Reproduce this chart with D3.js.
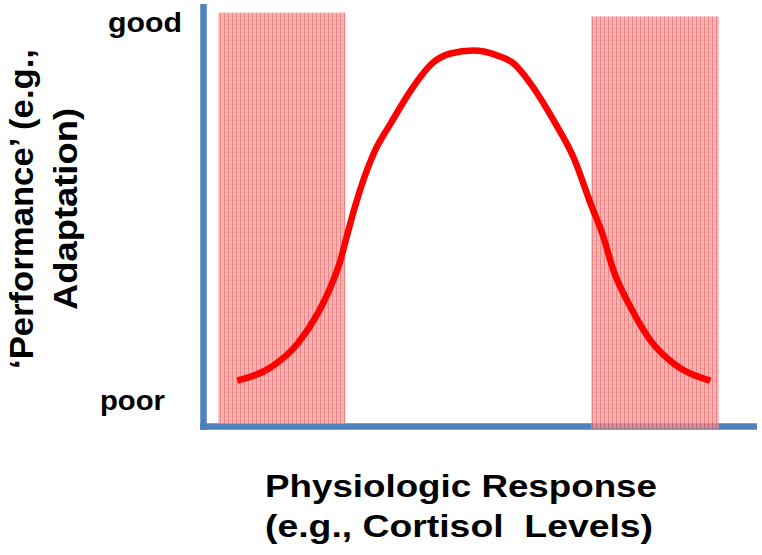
<!DOCTYPE html>
<html>
<head>
<meta charset="utf-8">
<script src="https://cdn.jsdelivr.net/npm/d3@7"></script>
<style>
  html, body { margin: 0; padding: 0; background: #ffffff; }
  svg { display: block; }
  text { font-family: "Liberation Sans", Arial, sans-serif; font-weight: bold; fill: #000; }
</style>
</head>
<body>
<svg id="chart" width="762" height="555"></svg>
<script>
// ---- data ----
const responseX   = [6.1, 12.1, 17.0, 20.6, 22.9, 24.7, 26.0, 27.4, 30.7, 33.8, 37.4, 41.5, 44.6, 48.7, 53.1, 56.0, 59.0, 63.2, 66.8, 70.0, 72.0, 74.0, 77.1, 80.7, 84.8, 91.5];
const performance = [10.9, 14.0, 19.7, 26.8, 33.0, 39.4, 45.8, 52.5, 64.8, 72.0, 79.8, 86.5, 88.6, 89.3, 88.1, 86.2, 81.5, 72.7, 63.9, 52.5, 45.8, 37.1, 28.3, 20.4, 15.0, 10.9];

const bandStart  = [2.7, 70.0];
const bandEnd    = [25.6, 93.0];
const bandTop    = [98.3, 97.4];
const bandBottom = [0.7, -0.5];

const yTickLabels = ["poor", "good"];
const yTickValues = [3.9, 93.8];

const yTitleLines = ["\u2018Performance\u2019 (e.g.,", "Adaptation)"];
const xTitleLines = ["Physiologic Response", "(e.g., Cortisol  Levels)"];

// ---- scales ----
const x = d3.scaleLinear().domain([0, 100]).range([203.5, 757.5]);
const y = d3.scaleLinear().domain([0, 100]).range([426.5, 5.5]);

const svg = d3.select("#chart");

// pattern for the shaded bands
const defs = svg.append("defs");
const pat = defs.append("pattern")
  .attr("id", "hatch")
  .attr("patternUnits", "userSpaceOnUse")
  .attr("width", 4).attr("height", 4);
pat.append("rect").attr("width", 4).attr("height", 4).attr("fill", "#ff9292");
pat.append("rect").attr("x", 0).attr("width", 1).attr("height", 4).attr("fill", "#e85c5c");
pat.append("rect").attr("x", 2).attr("y", 0).attr("width", 1).attr("height", 1).attr("fill", "#f27a7a");
pat.append("rect").attr("x", 2).attr("y", 2).attr("width", 1).attr("height", 1).attr("fill", "#ffaeae");

// axes lines
const axisColor = "#4f81bd";
svg.append("line")
  .attr("x1", x(0)).attr("x2", x(0))
  .attr("y1", y(100) - 1.5).attr("y2", y(0) + 3.5)
  .attr("stroke", axisColor).attr("stroke-width", 6.5);
svg.append("line")
  .attr("x1", x(0) - 3.5).attr("x2", x(100) - 0.5)
  .attr("y1", y(0)).attr("y2", y(0))
  .attr("stroke", axisColor).attr("stroke-width", 6.5);

// shaded bands
const bands = d3.range(bandStart.length).map(i => ({s: bandStart[i], e: bandEnd[i], t: bandTop[i], b: bandBottom[i]}));
svg.append("g").attr("opacity", 0.75)
  .selectAll("rect").data(bands).join("rect")
  .attr("x", d => x(d.s))
  .attr("width", d => x(d.e) - x(d.s))
  .attr("y", d => y(d.t))
  .attr("height", d => y(d.b) - y(d.t))
  .attr("fill", "url(#hatch)");

// curve
const pts = responseX.map((v, i) => [v, performance[i]]);
const line = d3.line().x(d => x(d[0])).y(d => y(d[1])).curve(d3.curveMonotoneX);
svg.append("path")
  .attr("d", line(pts))
  .attr("fill", "none")
  .attr("stroke", "#ff0000")
  .attr("stroke-width", 6.5)
  .attr("stroke-linecap", "butt");

// y tick labels
svg.selectAll("text.ytick").data(yTickLabels).join("text")
  .attr("class", "ytick")
  .attr("x", (d, i) => i === 1 ? 182 : 165)
  .attr("y", (d, i) => y(yTickValues[i]))
  .attr("text-anchor", "end")
  .attr("font-size", 28)
  .attr("textLength", (d, i) => i === 1 ? 74 : 65)
  .attr("lengthAdjust", "spacingAndGlyphs")
  .text(d => d);

// y title (rotated)
const yTitle = svg.append("g").attr("transform", "translate(0,209) rotate(-90)");
yTitle.selectAll("text").data(yTitleLines).join("text")
  .attr("x", 0)
  .attr("y", (d, i) => i === 0 ? 33 : 77)
  .attr("text-anchor", "middle")
  .attr("font-size", 34)
  .attr("textLength", (d, i) => i === 0 ? 320 : 202)
  .attr("lengthAdjust", "spacingAndGlyphs")
  .text(d => d);

// x title
svg.selectAll("text.xtitle").data(xTitleLines).join("text")
  .attr("class", "xtitle")
  .attr("x", 265)
  .attr("y", (d, i) => i === 0 ? 497 : 537)
  .attr("font-size", 31)
  .attr("xml:space", "preserve")
  .style("white-space", "pre")
  .attr("textLength", (d, i) => i === 0 ? 392 : 388)
  .attr("lengthAdjust", "spacingAndGlyphs")
  .text(d => d);
</script>
</body>
</html>
